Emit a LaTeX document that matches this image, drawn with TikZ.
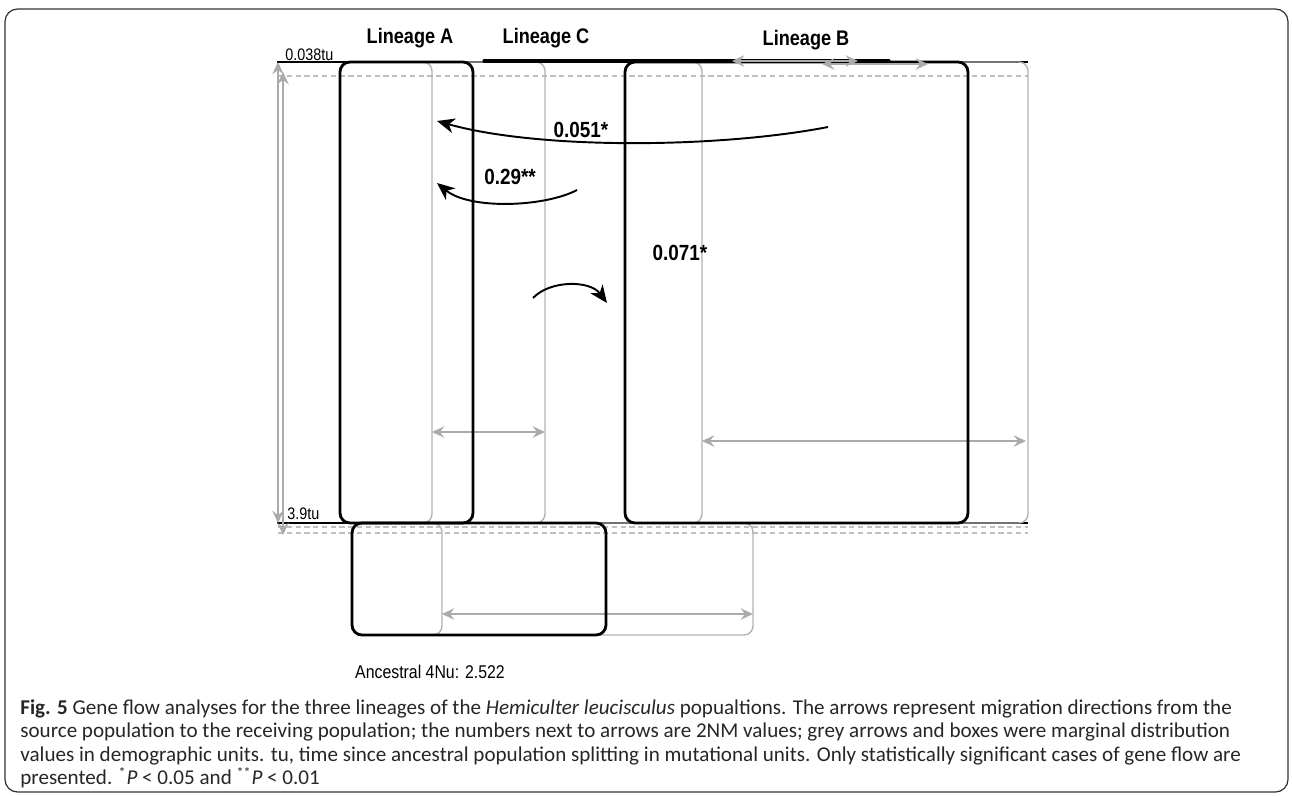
\documentclass[tikz,border=0pt]{standalone}
\usepackage{fontspec}
\setmainfont{Carlito}
\newfontfamily\figfont[FakeStretch=0.86]{Liberation Sans}
\usepackage{tikz}
\usetikzlibrary{arrows.meta}
\colorlet{boxgrey}{black!30}
\colorlet{arrowgrey}{black!33}
\colorlet{dashgrey}{black!25}
\colorlet{captext}{black!85}
\tikzset{
  popbox/.style={draw=black, line width=1.6pt, rounded corners=0.2cm},
  distbox/.style={draw=boxgrey, line width=0.8pt, rounded corners=0.18cm},
  cirange/.style={arrowgrey, line width=1.5pt, {Stealth[length=7pt,width=6.5pt,inset=2.5pt]}-{Stealth[length=7pt,width=6.5pt,inset=2.5pt]}},
  migr/.style={black, line width=1.1pt, -{Stealth[length=10pt,width=8.5pt,inset=3pt]}},
  splitline/.style={dashgrey, line width=0.8pt, dash pattern=on 3pt off 2pt},
  lineage/.style={font=\figfont\bfseries\fontsize{12}{14}\selectfont, inner sep=0pt, anchor=base},
  rate/.style={font=\figfont\bfseries\fontsize{12.5}{14}\selectfont, inner sep=0pt},
}

\begin{document}
\begin{tikzpicture}[x=0.02cm, y=-0.02cm]
  \useasboundingbox (0,0) rectangle (1292,795);
  \draw[black!80, line width=0.7pt, rounded corners=0.25cm] (5,9) rectangle (1288,792);

  % time levels
  \draw[splitline] (278,62) -- (1028,62) (278,76) -- (1028,76);
  \draw[splitline] (278,527) -- (1028,527) (278,533) -- (1028,533);
  \draw[black, line width=0.6pt] (277,62) -- (1028,62) (277,523) -- (1028,523);
  \draw[cirange] (278,523) -- (278,62);
  \draw[cirange] (283,535) -- (283,72);
  \node[font=\figfont\fontsize{9.5}{11}\selectfont, anchor=base west, inner sep=0pt] (ttop) at (285,60) {0.038tu};
  \node[font=\figfont\fontsize{9.5}{11}\selectfont, anchor=base west, inner sep=0pt] (tbot) at (287,519) {3.9tu};

  % marginal distributions
  \draw[distbox] (340,62) rectangle (432,523);
  \draw[distbox] (340,62) rectangle (545,523);
  \draw[distbox] (625,62) rectangle (702,523);
  \draw[distbox] (625,62) rectangle (1028,523);
  \draw[distbox] (352,523) rectangle (442,635);
  \draw[distbox] (352,523) rectangle (753,635);
  \draw[cirange] (432,432) -- (545,432);
  \draw[cirange] (702,441) -- (1026,441);
  \draw[cirange] (442,614) -- (753,614);

  % populations
  \draw[popbox] (340,62) rectangle (473,523);
  \draw[popbox] (625,62) rectangle (968,523);
  \draw[popbox] (352,523) rectangle (606,635);
  \draw[black, line width=1.8pt, line cap=round] (484,61) -- (889,61);
  \draw[cirange, line width=1.2pt] (732,61) -- (858,61);
  \draw[cirange, line width=1.2pt] (822,64) -- (928,64);

  \node[lineage] (linA) at (410,43) {Lineage A};
  \node[lineage] (linC) at (546,43) {Lineage C};
  \node[lineage] (linB) at (806,45) {Lineage B};

  % migration
  \coordinate (fromB1) at (828,127);
  \coordinate (toA1) at (437,121);
  \coordinate (fromC) at (577,190);
  \coordinate (toA2) at (437,183);
  \coordinate (fromC2) at (533,298);
  \coordinate (toB) at (607,303);
  \draw[migr] (fromB1) .. controls (720,148) and (540,150) .. (toA1);
  \draw[migr] (fromC) .. controls (545,207) and (470,210) .. (toA2);
  \draw[migr] (fromC2) .. controls (550,280) and (590,280) .. (toB);
  \node[rate] (mBA) at (581,130) {0.051*};
  \node[rate] (mCA) at (510,177) {0.29**};
  \node[rate] (mCB) at (680,253) {0.071*};

  \node[font=\figfont\fontsize{10.5}{12}\selectfont, anchor=base, inner sep=0pt] (anc) at (430,678) {Ancestral 4Nu: 2.522};

  \node[anchor=north west, align=left, inner sep=0pt, text=captext,
        font=\fontsize{12}{13.4}\selectfont] (caption) at (20,699)
    {\textbf{Fig. 5} Gene flow analyses for the three lineages of the \textit{Hemiculter leucisculus} popualtions. The arrows represent migration directions from the\\
     source population to the receiving population; the numbers next to arrows are 2NM values; grey arrows and boxes were marginal distribution\\
     values in demographic units. tu, time since ancestral population splitting in mutational units. Only statistically significant cases of gene flow are\\
     presented. \textsuperscript{*}\textit{P} < 0.05 and \textsuperscript{**}\textit{P} < 0.01};
\end{tikzpicture}
\end{document}
